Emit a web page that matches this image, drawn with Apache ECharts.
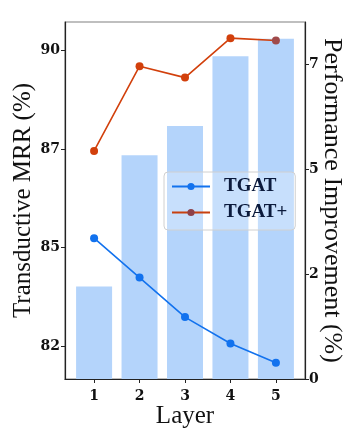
<!DOCTYPE html>
<html>
<head>
<meta charset="utf-8">
<script src="https://cdn.jsdelivr.net/npm/echarts@6/dist/echarts.min.js"></script>
<style>
html,body{margin:0;padding:0;background:#fff;}
#c{width:363px;height:436px;}
</style>
</head>
<body>
<div id="c"></div>
<script>
var layers = [1, 2, 3, 4, 5];
var tgat = [85.24, 84.24, 83.24, 82.57, 82.08];
var tgatPlus = [87.45, 89.60, 89.31, 90.31, 90.25];
var improvement = [2.21, 5.34, 6.04, 7.70, 8.12];
var leftTickValues = [82.5, 85, 87.5, 90];
var leftTickLabels = ['82', '85', '87', '90'];
var rightTickValues = [0, 2.5, 5, 7.5];
var rightTickLabels = ['0', '2', '5', '7'];

var chart = echarts.init(document.getElementById('c'), null, {renderer: 'canvas'});
var serif = '"Liberation Serif", "DejaVu Serif", serif';
var tickFont = {fontFamily: '"DejaVu Serif", serif', fontWeight: 'bold', fontSize: 14, color: '#111'};

function pairs(xs, ys) { return xs.map(function (x, i) { return [x, ys[i]]; }); }

var plusData = pairs(layers, tgatPlus).map(function (p, i) {
  return i === 4 ? {value: p, itemStyle: {color: '#a04a4a'}} : p;
});

chart.setOption({
  animation: false,
  grid: {left: 65, top: 22, right: 58, bottom: 57, outerBoundsMode: 'none', containLabel: false,
    show: true, borderColor: '#808080', borderWidth: 1.2, backgroundColor: 'transparent'},
  legend: {
    orient: 'vertical', left: 164, top: 172,
    padding: [5, 8, 8, 7], itemGap: 7,
    itemWidth: 38, itemHeight: 9,
    backgroundColor: 'rgba(255,255,255,0.25)', borderColor: '#d0d0d0', borderWidth: 1, borderRadius: 4,
    textStyle: {fontFamily: serif, fontWeight: 'bold', fontSize: 19, color: '#0b1a3c', padding: [0, 0, 0, 9]},
    data: [
      {name: 'TGAT'},
      {name: 'TGAT+', itemStyle: {color: '#8e4048'}, lineStyle: {color: '#c8400f'}}
    ]
  },
  xAxis: {
    type: 'value', min: 0.36, max: 5.64,
    name: 'Layer', nameLocation: 'middle', nameGap: 25, nameMoveOverlap: false,
    nameTextStyle: {fontFamily: serif, fontSize: 25, color: '#111'},
    axisLine: {show: true, onZero: false, lineStyle: {color: '#222', width: 1.2}},
    axisTick: {show: true, length: 4, customValues: layers, lineStyle: {color: '#222'}},
    axisLabel: Object.assign({customValues: layers, margin: 10, formatter: function (v) { return String(v); }}, tickFont),
    splitLine: {show: false}
  },
  yAxis: [
    {
      type: 'value', min: 81.67, max: 90.72, position: 'left',
      name: 'Transductive MRR (%)', nameLocation: 'middle', nameGap: 29, nameRotate: 90, nameMoveOverlap: false,
      nameTextStyle: {fontFamily: serif, fontSize: 25, color: '#111'},
      axisLine: {show: true, lineStyle: {color: '#222', width: 1.2}},
      axisTick: {show: true, length: 4, customValues: leftTickValues, lineStyle: {color: '#222'}},
      axisLabel: Object.assign({customValues: leftTickValues, margin: 5, formatter: function (v) {
        var i = leftTickValues.indexOf(v); return i >= 0 ? leftTickLabels[i] : '';
      }}, tickFont),
      splitLine: {show: false}
    },
    {
      type: 'value', min: 0, max: 8.52, position: 'right',
      name: 'Performance Improvement (%)', nameLocation: 'middle', nameGap: 14, nameRotate: -90, nameMoveOverlap: false,
      nameTextStyle: {fontFamily: serif, fontSize: 26, color: '#111'},
      axisLine: {show: true, lineStyle: {color: '#222', width: 1.2}},
      axisTick: {show: true, length: 4, customValues: rightTickValues, lineStyle: {color: '#222'}},
      axisLabel: Object.assign({customValues: rightTickValues, margin: 4, formatter: function (v) {
        var i = rightTickValues.indexOf(v); return i >= 0 ? rightTickLabels[i] : '';
      }}, tickFont),
      splitLine: {show: false}
    }
  ],
  series: [
    {
      name: 'Improvement', type: 'bar', yAxisIndex: 1, barWidth: 36,
      itemStyle: {color: '#b4d4fb'}, z: 1,
      data: pairs(layers, improvement)
    },
    {
      name: 'TGAT', type: 'line', yAxisIndex: 0, symbol: 'circle', symbolSize: 8,
      itemStyle: {color: '#1272ee'}, lineStyle: {color: '#1272ee', width: 1.6}, z: 3,
      data: pairs(layers, tgat)
    },
    {
      name: 'TGAT+', type: 'line', yAxisIndex: 0, symbol: 'circle', symbolSize: 8,
      itemStyle: {color: '#d2400c'}, lineStyle: {color: '#d2400c', width: 1.6}, z: 3,
      data: plusData
    }
  ]
});
</script>
</body>
</html>
